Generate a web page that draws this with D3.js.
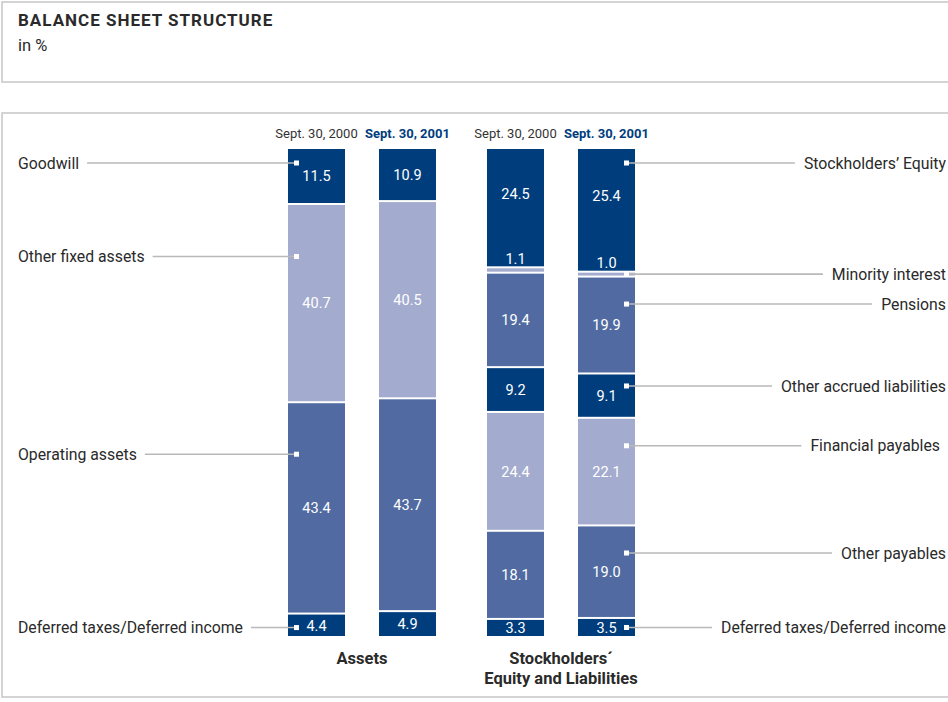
<!DOCTYPE html>
<html>
<head>
<meta charset="utf-8">
<script src="https://cdn.jsdelivr.net/npm/d3@7"></script>
<style>
  html, body { margin: 0; padding: 0; background: #fff; }
  svg { display: block; font-family: Roboto, "Liberation Sans", sans-serif; }
</style>
</head>
<body>
<svg id="chart" width="948" height="702"></svg>
<script>
// ---- data -------------------------------------------------------------
const dates = ["Sept. 30, 2000", "Sept. 30, 2001"];
const groups = ["Assets", "Stockholders\u00b4|Equity and Liabilities"];

const assetItems = ["Goodwill", "Other fixed assets", "Operating assets", "Deferred taxes/Deferred income"];
const assets2000 = [11.5, 40.7, 43.4, 4.4];
const assets2001 = [10.9, 40.5, 43.7, 4.9];

const liabItems = ["Stockholders\u2019 Equity", "Minority interest", "Pensions", "Other accrued liabilities",
                   "Financial payables", "Other payables", "Deferred taxes/Deferred income"];
const liab2000 = [24.5, 1.1, 19.4, 9.2, 24.4, 18.1, 3.3];
const liab2001 = [25.4, 1.0, 19.9, 9.1, 22.1, 19.0, 3.5];

// ---- styles -----------------------------------------------------------
const C = { dark: "#003d7d", medium: "#516ba2", light: "#a3abce" };
const assetTones = [C.dark, C.light, C.medium, C.dark];
const liabTones = [C.dark, C.light, C.medium, C.dark, C.light, C.medium, C.dark];
const border = "#c6c6c6";
const leaderColor = "#b9b9b9";
const textColor = "#2a2a2a";
const labelSize = 15.8;

// leader anchor: pixels below segment top (null = segment middle)
const assetLeaderOffset = [14, 51.5, 51, 13];
const liabLeaderOffset = [14, null, 26.5, 11.5, 27, 26.6, null];
const liabLabelShift = [0, 0, 0, 0, -6, 0, 0];

const svg = d3.select("#chart");

// frames
svg.append("rect").attr("x", 2).attr("y", 2).attr("width", 960).attr("height", 80)
  .attr("fill", "none").attr("stroke", border).attr("stroke-width", 1.5);
svg.append("rect").attr("x", 2).attr("y", 113).attr("width", 960).attr("height", 584)
  .attr("fill", "none").attr("stroke", border).attr("stroke-width", 1.5);

svg.append("text").attr("x", 18).attr("y", 26)
  .attr("font-size", 17).attr("font-weight", 700).attr("letter-spacing", 1)
  .attr("fill", textColor).text("BALANCE SHEET STRUCTURE");
svg.append("text").attr("x", 18).attr("y", 51)
  .attr("font-size", 16.5).attr("fill", textColor).text("in %");

// ---- scales -----------------------------------------------------------
const x0 = d3.scaleBand().domain(groups).range([288, 635]).paddingInner(51 / 199).paddingOuter(0);
const x1 = d3.scaleBand().domain(dates).range([0, x0.bandwidth()]).paddingInner(34 / 91).paddingOuter(0);
const y = d3.scaleLinear().domain([0, 100]).range([149, 636]);

const columns = [
  { group: groups[0], date: dates[0], values: assets2000, tones: assetTones },
  { group: groups[0], date: dates[1], values: assets2001, tones: assetTones },
  { group: groups[1], date: dates[0], values: liab2000, tones: liabTones },
  { group: groups[1], date: dates[1], values: liab2001, tones: liabTones }
];

columns.forEach(col => {
  const ends = Array.from(d3.cumsum(col.values));
  col.x = x0(col.group) + x1(col.date);
  col.segs = col.values.map((v, i) => {
    const s = i === 0 ? 0 : ends[i - 1];
    const e = ends[i];
    const top = y(s);
    const bottom = i === col.values.length - 1 ? y(e) : y(e) - 2;
    return { v, i, top, bottom, tone: col.tones[i] };
  });
});

const bw = x1.bandwidth();

// ---- bars -------------------------------------------------------------
const colG = svg.selectAll("g.col").data(columns).join("g").attr("class", "col")
  .attr("transform", d => `translate(${d.x},0)`);

colG.selectAll("rect").data(d => d.segs).join("rect")
  .attr("x", 0).attr("width", bw)
  .attr("y", d => d.top).attr("height", d => Math.max(0, d.bottom - d.top))
  .attr("fill", d => d.tone);

// value labels: thin segments get their label just above, inside the segment before
colG.each(function (col) {
  const g = d3.select(this);
  col.segs.forEach((s, i) => {
    const h = s.bottom - s.top;
    let cy;
    if (h < 12) {
      cy = s.top - 10;
    } else if (i + 1 < col.segs.length && (col.segs[i + 1].bottom - col.segs[i + 1].top) < 12) {
      cy = (s.top + col.segs[i + 1].top - 30) / 2;
    } else {
      cy = (s.top + s.bottom) / 2;
    }
    g.append("text")
      .attr("x", bw / 2).attr("y", cy).attr("dy", "0.36em")
      .attr("text-anchor", "middle").attr("font-size", 14.5).attr("fill", "#fff")
      .text(d3.format(".1f")(s.v));
  });
});

// column dates
svg.selectAll("text.date").data(columns).join("text").attr("class", "date")
  .attr("x", d => d.x + bw / 2).attr("y", 138)
  .attr("text-anchor", "middle").attr("font-size", 13)
  .attr("font-weight", d => d.date === dates[1] ? 700 : 400)
  .attr("fill", d => d.date === dates[1] ? C.dark : "#333")
  .text(d => d.date);

// group captions
groups.forEach(gname => {
  const cx = x0(gname) + x0.bandwidth() / 2;
  const t = svg.append("text").attr("x", cx).attr("y", 664)
    .attr("text-anchor", "middle").attr("font-size", 16.5).attr("font-weight", 700).attr("fill", textColor);
  gname.split("|").forEach((line, k) => {
    t.append("tspan").attr("x", cx).attr("dy", k === 0 ? 0 : 20).text(line);
  });
});

// ---- leaders ----------------------------------------------------------
function leaderY(seg, off) {
  return off == null ? (seg.top + seg.bottom) / 2 : seg.top + off;
}

// assets, left side, anchored in the 2000 column
const leftCol = columns[0];
const mxL = leftCol.x + 8.5;
assetItems.forEach((name, i) => {
  const yy = leaderY(leftCol.segs[i], assetLeaderOffset[i]);
  const t = svg.append("text").attr("x", 18).attr("y", yy).attr("dy", "0.35em")
    .attr("font-size", labelSize).attr("fill", textColor).text(name);
  const w = t.node().getComputedTextLength();
  svg.append("line").attr("x1", 18 + w + 8).attr("x2", mxL).attr("y1", yy).attr("y2", yy)
    .attr("stroke", leaderColor).attr("stroke-width", 1.6);
  svg.append("rect").attr("x", mxL - 2.5).attr("y", yy - 2.5).attr("width", 5).attr("height", 5).attr("fill", "#fff");
});

// equity and liabilities, right side, anchored in the 2001 column
const rightCol = columns[3];
const mxR = rightCol.x + bw - 8.5;
liabItems.forEach((name, i) => {
  const yy = leaderY(rightCol.segs[i], liabLeaderOffset[i]);
  const tx = 946 + liabLabelShift[i];
  const t = svg.append("text").attr("x", tx).attr("y", yy).attr("dy", "0.35em")
    .attr("text-anchor", "end").attr("font-size", labelSize).attr("fill", textColor).text(name);
  const w = t.node().getComputedTextLength();
  svg.append("line").attr("x1", mxR).attr("x2", tx - w - 9).attr("y1", yy).attr("y2", yy)
    .attr("stroke", leaderColor).attr("stroke-width", 1.6);
  svg.append("rect").attr("x", mxR - 2.5).attr("y", yy - 2.5).attr("width", 5).attr("height", 5).attr("fill", "#fff");
});
</script>
</body>
</html>
